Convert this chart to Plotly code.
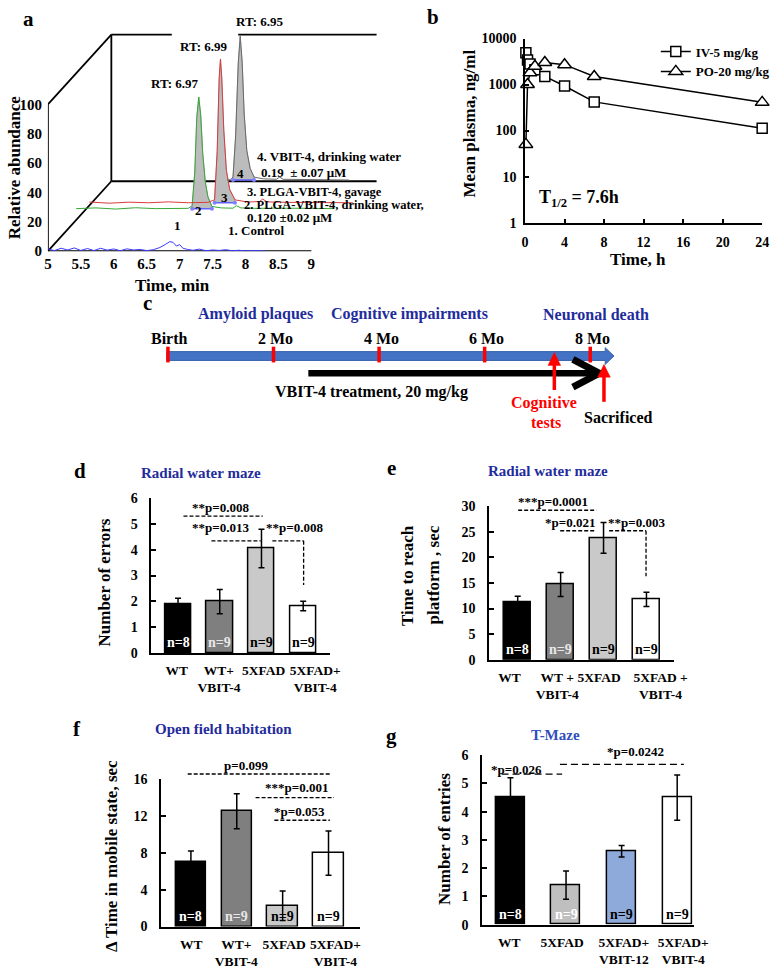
import plotly.graph_objects as go

W, H = 784, 972
SERIF = "Liberation Serif"
TITLE_BLUE = "#1f2c9c"
TMAZE_BLUE = "#2f4fbd"

# ======================= DATA =======================
# (a) LC-MS chromatograms: retention time (min) vs relative abundance (%)
control_time = [5.00, 5.10, 5.20, 5.30, 5.40, 5.50, 5.60, 5.70, 5.80, 5.90, 6.00, 6.10, 6.20,
                6.30, 6.40, 6.50, 6.60, 6.70, 6.78, 6.85, 6.90, 6.95, 7.00, 7.05, 7.12, 7.20,
                7.30, 7.40, 7.50, 7.60, 7.70, 7.80, 7.90, 8.00, 8.10, 8.20, 8.30]
control_abund = [1.5, 0.4, 2.0, 0.8, 2.2, 0.5, 1.8, 0.4, 2.0, 0.7, 1.5, 0.3, 1.6,
                 0.8, 1.2, 0.4, 1.0, 2.5, 4.5, 6.5, 6.0, 3.5, 4.5, 2.0, 1.2, 0.6,
                 1.4, 0.3, 0.8, 0.5, 1.0, 0.3, 0.6, 0.2, 0.4, 0.1, 0.2]
plga_dw_time = [5.10, 5.40, 5.70, 6.00, 6.30, 6.60, 6.80, 6.86, 6.90, 6.93, 6.96, 6.99, 7.02,
                7.06, 7.10, 7.16, 7.30, 7.48, 7.53, 7.60, 7.80, 8.10, 8.40, 8.70, 9.00]
plga_dw_abund = [0.0, 0.5, -0.3, 0.6, 0.0, 0.4, 0.2, 2.0, 25, 62, 76, 64, 38,
                 18, 8, 1.5, 0.5, 0.3, 2.0, 0.5, 0.2, 0.3, 0.0, 0.2, 0.0]
plga_gav_time = [5.00, 5.30, 5.60, 5.90, 6.20, 6.50, 6.80, 6.90, 6.94, 6.97, 6.99, 7.01, 7.04,
                 7.08, 7.13, 7.21, 7.40, 7.58, 7.63, 7.70, 8.00, 8.40, 8.70, 9.00]
plga_gav_abund = [0.5, -0.3, 0.4, 0.0, 0.6, 0.0, 0.3, 2.0, 35, 85, 98, 85, 50,
                  22, 9, 2.0, 0.5, 0.8, 2.5, 0.6, 0.3, 0.0, 0.2, 0.0]
vbit_dw_time = [6.75, 6.80, 6.84, 6.88, 6.92, 6.95, 6.98, 7.01, 7.05, 7.10, 7.16, 7.30, 7.50,
                7.55, 7.60, 7.80, 8.20, 8.60]
vbit_dw_abund = [0.0, 0.3, 2.0, 30, 80, 98, 80, 45, 20, 8, 2.0, 0.8, 0.5,
                 2.0, 0.5, 0.3, 0.0, 0.0]
chrom_tick_vals = [5, 5.5, 6, 6.5, 7, 7.5, 8, 8.5, 9]
chrom_tick_text = ["5", "5.5", "6", "6.5", "7", "7.5", "8", "8.5", "9"]
abund_ticks = [0, 20, 40, 60, 80, 100]

# (b) pharmacokinetics: time (h) vs mean plasma concentration (ng/ml)
pk_time = [0.083, 0.25, 0.5, 1, 2, 4, 7, 24]
pk_iv_5 = [4900, 3400, 2800, 2100, 1500, 930, 420, 112]
pk_po_20 = [50, 1000, 1800, 2500, 3000, 2700, 1500, 410]
pk_x_ticks = [0, 4, 8, 12, 16, 20, 24]
pk_y_ticks = [1, 10, 100, 1000, 10000]

# (c) timeline (months)
timeline_months = [0, 2, 4, 6, 8]
timeline_labels = ["Birth", "2 Mo", "4 Mo", "6 Mo", "8 Mo"]
stage_labels = ["Amyloid plaques", "Cognitive impairments", "Neuronal death"]
stage_months = [1.66, 4.58, 8.1]
treatment_start_mo, treatment_end_mo = 2.66, 8.17
cognitive_test_mo = 7.32
sacrifice_mo = 8.26
timeline_end_mo = 8.45

# (d) radial water maze: errors
groups_wt = ["WT", "WT+<br>VBIT-4", "5XFAD", "5XFAD+<br>VBIT-4"]
errors_mean = [1.88, 1.99, 4.05, 1.82]
errors_sem = [0.24, 0.47, 0.75, 0.18]
n_wt = [8, 9, 9, 9]
# (e) radial water maze: time to platform
groups_e = ["WT", "WT +<br>VBIT-4", "5XFAD", "5XFAD +<br>VBIT-4"]
time_mean = [11.3, 14.7, 23.8, 11.8]
time_sem = [1.1, 2.35, 3.0, 1.4]
# (f) open field
mobile_mean = [7.0, 12.5, 2.25, 7.95]
mobile_sem = [1.2, 1.9, 1.6, 2.4]
# (g) T-maze
groups_g = ["WT", "5XFAD", "5XFAD+<br>VBIT-12", "5XFAD+<br>VBIT-4"]
entries_mean = [4.5, 1.4, 2.6, 4.5]
entries_sem = [0.7, 0.5, 0.2, 0.8]
n_g = [8, 9, 9, 9]

# ======================= HELPERS =======================
def fx(px):
    return px / W


def fy(py):
    return 1 - py / H


fig = go.Figure()


def bold(size, color="black"):
    return dict(family=SERIF, size=size, color=color, weight="bold")


def text(s, x, y, size=13, color="black", xanchor="center", yanchor="middle", angle=0):
    fig.add_annotation(text=s, x=fx(x), y=fy(y), xref="paper", yref="paper", showarrow=False,
                       font=bold(size, color), xanchor=xanchor, yanchor=yanchor,
                       textangle=angle, borderpad=0)


def seg(x0, y0, x1, y1, color="black", width=1.5, dash=None):
    fig.add_shape(type="line", xref="paper", yref="paper", x0=fx(x0), y0=fy(y0),
                  x1=fx(x1), y1=fy(y1), line=dict(color=color, width=width, dash=dash))


def poly(points, fill, color, width=1.0, closed=True):
    p = "M " + " L ".join(f"{fx(a):.5f},{fy(b):.5f}" for a, b in points)
    if closed:
        p += " Z"
    fig.add_shape(type="path", xref="paper", yref="paper", path=p,
                  fillcolor=fill, line=dict(color=color, width=width))


def mapper(xpx, xr, ypx, yr):
    (x0p, x1p), (yb, yt) = xpx, ypx

    def mx(v):
        return x0p + (v - xr[0]) / (xr[1] - xr[0]) * (x1p - x0p)

    def my(v):
        return yb - (v - yr[0]) / (yr[1] - yr[0]) * (yb - yt)
    return mx, my


layout_axes = {}

# ======================= PANEL A =======================
A_XPX, A_XR = (45, 382.5), (5, 10)
A_YPX, A_YR = (248, 15), (0, 233 / 1.49)
chroms = [
    (control_time, control_abund, "#3b3bff", (0.0, 0.0), None),
    (plga_dw_time, plga_dw_abund, "#35a835", (0.33, 29.0), (6.86, 7.16)),
    (plga_gav_time, plga_gav_abund, "#d83c3c", (0.63, 33.0), (6.90, 7.21)),
    (vbit_dw_time, vbit_dw_abund, "#6a6a6a", (0.97, 48.5), (6.84, 7.16)),
]
# 3-D frame
ddx, ddy, top = 0.963, 47.65, 100
fx_frame = [5, 5, None, 5, 9, None, 5, 5 + ddx, None, 5, 5 + ddx, None,
            5 + ddx, 5 + ddx, None, 5 + ddx, 6.881, None, 7.889, 9.99, None, 5 + ddx, 9.99]
fy_frame = [0, top, None, 0, 0, None, 0, ddy, None, top, top + ddy, None,
            ddy, top + ddy, None, top + ddy, top + ddy, None, top + ddy, top + ddy, None, ddy, ddy]
fig.add_trace(go.Scatter(x=fx_frame, y=fy_frame, mode="lines", line=dict(color="black", width=1.8),
                         hoverinfo="skip", showlegend=False, xaxis="x", yaxis="y"))
for t, a, col, (dx, dy), win in chroms:
    if win:
        sel = [(ti, ai) for ti, ai in zip(t, a) if win[0] <= ti <= win[1]]
        px_ = [win[0]] + [s[0] for s in sel] + [win[1]]
        py_ = [0] + [s[1] for s in sel] + [0]
        fig.add_trace(go.Scatter(x=[v + dx for v in px_], y=[v + dy for v in py_], fill="toself",
                                 fillcolor="#bcbcbc", mode="lines",
                                 line=dict(color="#8c8c8c", width=0.6),
                                 hoverinfo="skip", showlegend=False, xaxis="x", yaxis="y"))
    fig.add_trace(go.Scatter(x=[v + dx for v in t], y=[v + dy for v in a], mode="lines",
                             line=dict(color=col, width=1), hoverinfo="skip", showlegend=False,
                             xaxis="x", yaxis="y"))
    if win:
        fig.add_trace(go.Scatter(x=[win[0] + dx, win[1] + dx], y=[dy, dy], mode="lines+markers",
                                 line=dict(color="#6262ff", width=1.5),
                                 marker=dict(size=4, color="#8080ff"),
                                 hoverinfo="skip", showlegend=False, xaxis="x", yaxis="y"))
layout_axes["xaxis"] = dict(domain=[fx(A_XPX[0]), fx(A_XPX[1])], range=list(A_XR), anchor="y",
                            tickvals=chrom_tick_vals, ticktext=chrom_tick_text, showline=False,
                            showgrid=False, zeroline=False, ticks="", tickfont=bold(15),
                            ticklabelstandoff=2, tickangle=0)
layout_axes["yaxis"] = dict(domain=[fy(A_YPX[0]), fy(A_YPX[1])], range=list(A_YR), anchor="x",
                            tickvals=abund_ticks, showline=False, showgrid=False, zeroline=False,
                            ticks="", tickfont=bold(15), ticklabelstandoff=5)
text("RT: 6.97", 175, 78, 13)
text("RT: 6.99", 204, 40, 13)
text("RT: 6.95", 262, 15, 13)
text("1", 178, 222, 13)
text("2", 199, 207, 13)
text("3", 226, 193, 13)
text("4", 242, 169, 13)
text("4. VBIT-4, drinking water", 258, 152, 13, xanchor="left")
text("0.19  ± 0.07 μM", 262, 168, 13, xanchor="left")
text("3. PLGA-VBIT-4, gavage", 248, 188, 12.5, xanchor="left")
text("2. PLGA-VBIT-4, drinking water,", 245, 201, 12.5, xanchor="left")
text("0.120 ±0.02 μM", 248, 214, 13, xanchor="left")
text("1. Control", 229, 227, 13, xanchor="left")
text("Relative abundance", 11, 163, 17, angle=-90)
text("Time, min", 173, 283, 17)
text("a", 25, 12, 21)

# ======================= PANEL B =======================
fig.add_trace(go.Scatter(x=pk_time, y=pk_iv_5, name="IV-5 mg/kg", mode="lines+markers",
                         line=dict(color="black", width=1.5),
                         marker=dict(symbol="square", size=10, color="white",
                                     line=dict(color="black", width=1.5)),
                         cliponaxis=False, xaxis="x2", yaxis="y2"))
fig.add_trace(go.Scatter(x=pk_time, y=pk_po_20, name="PO-20 mg/kg", mode="lines+markers",
                         line=dict(color="black", width=1.5),
                         marker=dict(symbol="triangle-up", size=12, color="white",
                                     line=dict(color="black", width=1.5)),
                         cliponaxis=False, xaxis="x2", yaxis="y2"))
layout_axes["xaxis2"] = dict(domain=[fx(534), fx(777)], range=[0, 24], anchor="y2",
                             tickvals=pk_x_ticks, showline=True, linewidth=1.5, linecolor="black",
                             ticks="inside", ticklen=4, tickwidth=1.5, tickcolor="black",
                             showgrid=False, zeroline=False, tickfont=bold(14),
                             ticklabelstandoff=6, tickangle=0)
layout_axes["yaxis2"] = dict(domain=[fy(219), fy(32)], type="log", range=[0, 4], anchor="x2",
                             tickvals=pk_y_ticks, ticktext=[str(v) for v in pk_y_ticks],
                             showline=True, linewidth=1.5, linecolor="black", ticks="inside",
                             ticklen=4, tickwidth=1.5, tickcolor="black", showgrid=False,
                             zeroline=False, tickfont=bold(14), ticklabelstandoff=4)
text("Mean plasma, ng/ml", 477, 118, 17, angle=-90)
text("Time, h", 650, 256, 17)
text("T<sub>1/2</sub> = 7.6h", 547, 195, 18, xanchor="left")
text("b", 440, 10, 21)

# ======================= PANEL C =======================
def mo(m):
    return 168 + 54.1 * m


bar_y0, bar_y1 = 350, 359
poly([(mo(-0.02), bar_y0), (mo(timeline_end_mo) - 9, bar_y0), (mo(timeline_end_mo) - 9, bar_y0 - 4),
      (mo(timeline_end_mo), (bar_y0 + bar_y1) / 2), (mo(timeline_end_mo) - 9, bar_y1 + 4),
      (mo(timeline_end_mo) - 9, bar_y1), (mo(-0.02), bar_y1)], "#4472c4", "#3b64ad", 1)
for m, lab in zip(timeline_months, timeline_labels):
    seg(mo(m), 345, mo(m), 361, color="#ff0000", width=3.5)
    text(lab, mo(m) + 2, 337, 16)
for m, lab in zip(stage_months, stage_labels):
    text(lab, mo(m), 312, 16, color=TITLE_BLUE)
seg(mo(treatment_start_mo), 372, mo(treatment_end_mo) - 3, 372, width=6.5)
poly([(mo(treatment_end_mo) - 27, 358), (mo(treatment_end_mo), 372), (mo(treatment_end_mo) - 27, 386)],
     "rgba(0,0,0,0)", "black", 7, closed=False)
text("VBIT-4 treatment, 20 mg/kg", 277, 391, 16, xanchor="left")
for m, ybot, ytip in [(cognitive_test_mo, 389, 351), (sacrifice_mo, 401, 363)]:
    seg(mo(m), ybot, mo(m), ytip + 11, color="#ff0000", width=3.5)
    poly([(mo(m) - 6.5, ytip + 13), (mo(m), ytip), (mo(m) + 6.5, ytip + 13)], "#ff0000", "#ff0000", 0.5)
text("Cognitive", 553, 402, 16, color="#ff0000")
text("tests", 555, 422, 16, color="#ff0000")
text("Sacrificed", 630, 417, 16)
text("c", 147, 301, 21)

# ======================= BAR PANELS =======================
def bar_panel(idx, xpx, xr, ypx, yr, cats, label_pos, means, sems, colors, ns, ncolors, bw, yticks,
              lines=(), brackets=(), sig_texts=(), dash="4px,2px", xlabel_size=13.5):
    xa, ya = f"x{idx}", f"y{idx}"
    fig.add_trace(go.Bar(x=list(range(len(means))), y=means, width=bw,
                         marker=dict(color=colors, line=dict(color="black", width=1.5)),
                         error_y=dict(type="data", array=sems, color="black", thickness=1.5, width=3),
                         hoverinfo="skip", showlegend=False, xaxis=xa, yaxis=ya))
    layout_axes[f"xaxis{idx}"] = dict(domain=[fx(xpx[0]), fx(xpx[1])], range=list(xr), anchor=ya,
                                      tickvals=label_pos, ticktext=cats,
                                      showline=True, linewidth=1.5, linecolor="black", ticks="",
                                      showgrid=False, zeroline=False, tickfont=bold(xlabel_size),
                                      ticklabelstandoff=4, tickangle=0)
    layout_axes[f"yaxis{idx}"] = dict(domain=[fy(ypx[0]), fy(ypx[1])], range=list(yr), anchor=xa,
                                      tickvals=yticks, showline=True, linewidth=1.5,
                                      linecolor="black", ticks="inside", ticklen=5, tickwidth=1.5,
                                      tickcolor="black", showgrid=False, zeroline=False,
                                      tickfont=bold(14), ticklabelstandoff=9)
    for i, (n, c) in enumerate(zip(ns, ncolors)):
        fig.add_annotation(text=f"n={n}", x=i, y=0, xref=xa, yref=ya, showarrow=False,
                           yanchor="bottom", yshift=1, font=bold(14, c))
    mx, my = mapper(xpx, xr, ypx, yr)
    for x0, x1, y in lines:
        seg(mx(x0), my(y), mx(x1), my(y), width=1.3, dash=dash)
    for x0, x1, y, yd in brackets:
        seg(mx(x0), my(y), mx(x1), my(y), width=1.3, dash=dash)
        seg(mx(x1), my(y), mx(x1), my(yd), width=1.3, dash=dash)
    for s, x, y in sig_texts:
        text(s, mx(x), my(y), 13)


GRAYS = ["#000000", "#7f7f7f", "#c9c9c9", "#ffffff"]
NCOL = ["white", "#e8e8e8", "black", "black"]

bar_panel(3, (151, 334), (-0.64, 3.64), (656, 499), (0, 6), groups_wt, [-0.03, 0.98, 2.05, 3.29],
          errors_mean, errors_sem, GRAYS, n_wt, NCOL, 0.63, [0, 1, 2, 3, 4, 5, 6],
          lines=[(0.13, 2.03, 5.31), (0.80, 1.98, 4.35)],
          brackets=[(2.26, 3.01, 4.35, 2.63)],
          sig_texts=[("**p=0.008", 1.02, 5.65), ("**p=0.013", 1.02, 4.85), ("**p=0.008", 2.80, 4.85)])
text("Radial water maze", 202, 473, 15, color=TITLE_BLUE)
text("Number of errors", 103, 585, 17, angle=-90)
text("d", 78, 471, 21)

bar_panel(4, (497, 687), (-0.67, 3.65), (663, 507), (0, 30), groups_e, [-0.19, 0.92, 1.90, 3.33],
          time_mean, time_sem, GRAYS, n_wt, NCOL, 0.64, [0, 5, 10, 15, 20, 25, 30],
          lines=[(0.01, 1.83, 29.2), (0.99, 1.81, 25.2)],
          brackets=[(2.13, 2.99, 25.2, 16.3)],
          sig_texts=[("***p=0.0001", 0.83, 31.0), ("*p=0.021", 1.22, 26.9), ("**p=0.003", 2.76, 26.9)])
text("Radial water maze", 557, 471, 15, color=TITLE_BLUE)
text("Time to reach", 413, 577, 17, angle=-90)
text("platform , sec", 440, 577, 17, angle=-90)
text("e", 397, 468, 21)

bar_panel(5, (161, 365), (-0.65, 3.69), (934, 784), (0, 16), groups_wt, [0.01, 0.99, 2.03, 3.15],
          mobile_mean, mobile_sem, GRAYS, n_wt, NCOL, 0.66, [0, 4, 8, 12, 16],
          lines=[(-0.07, 3.03, 16.53), (1.41, 3.12, 13.97), (1.82, 3.03, 11.52)],
          sig_texts=[("p=0.099", 1.20, 17.5), ("***p=0.001", 2.31, 15.04), ("*p=0.053", 2.37, 12.48)])
text("Open field habitation", 225, 733, 15, color=TITLE_BLUE)
text("Δ Time in mobile state, sec", 110, 862, 17, angle=-90)
text("f", 75, 733, 21)

bar_panel(6, (490, 707), (-0.51, 3.30), (932, 760), (0, 6), groups_g, [-0.02, 0.93, 2.04, 3.11],
          entries_mean, entries_sem, ["#000000", "#bfbfbf", "#8eaadb", "#ffffff"], n_g,
          ["white", "white", "black", "black"], 0.52, [0, 1, 2, 3, 4, 5, 6],
          lines=[(-0.16, 0.93, 5.33), (0.89, 3.12, 5.68)],
          sig_texts=[("*p=0.026", 0.105, 5.5), ("*p=0.0242", 2.25, 6.13)], dash="7px,4px")
text("T-Maze", 565, 739, 15, color=TMAZE_BLUE)
text("Number of entries", 452, 845, 17, angle=-90)
text("g", 397, 740, 21)

fig.update_layout(
    width=W, height=H, margin=dict(l=0, r=0, t=0, b=0),
    paper_bgcolor="white", plot_bgcolor="rgba(0,0,0,0)",
    font=dict(family=SERIF, size=13, color="black", weight="bold"),
    showlegend=True,
    legend=dict(x=fx(668), y=fy(30), xanchor="left", yanchor="top", bgcolor="rgba(0,0,0,0)",
                font=bold(13), itemwidth=30, tracegroupgap=0),
    bargap=0,
    **layout_axes,
)

fig.write_html("out.html", config={"displayModeBar": False},
               post_script="document.body.style.margin='0';document.body.style.overflow='hidden';")
